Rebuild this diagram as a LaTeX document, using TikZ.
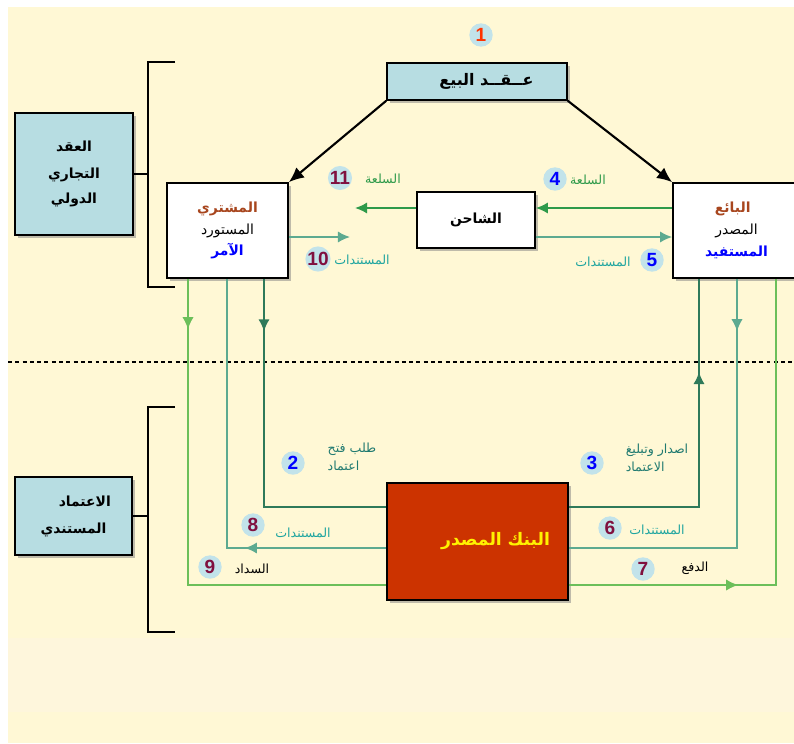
\documentclass[tikz,border=0pt]{standalone}
\usepackage{fontspec}
\setsansfont{Liberation Sans}
\newfontfamily\arabicfont[Script=Arabic]{DejaVu Sans}
\TeXXeTstate=1
\usepackage{xcolor}
\usepackage{tikz}
\usetikzlibrary{arrows.meta,decorations.markings,shadows}
\definecolor{paper}{HTML}{FFF8D5}
\definecolor{band}{HTML}{FEF6DC}
\definecolor{boxblue}{HTML}{B7DDE2}
\definecolor{numblue}{HTML}{C2E3EA}
\definecolor{bankred}{HTML}{CC3300}
\definecolor{goods}{HTML}{2E9A4A}
\definecolor{docs}{HTML}{1FA5A0}
\definecolor{credit}{HTML}{207A70}
\definecolor{reqline}{HTML}{2F7A5A}
\definecolor{docline}{HTML}{5DAA90}
\definecolor{payline}{HTML}{6CBF5A}
\definecolor{numred}{HTML}{FF3300}
\definecolor{nummaroon}{HTML}{80103F}
\definecolor{brownt}{HTML}{A8461E}
\newcommand{\artxt}[1]{\beginR #1\endR}
\tikzset{
  pane/.style={rectangle, draw=black, line width=1.2pt, fill=#1, align=center,
               font=\arabicfont\bfseries\fontsize{10.5}{12.5}\selectfont, inner sep=2pt,
               drop shadow={shadow xshift=2.5pt, shadow yshift=-2.5pt, fill=black!50, opacity=0.5}},
  num/.style={circle, fill=numblue, inner sep=0pt, minimum size=0.62cm,
              font=\sffamily\bfseries\Large, text=#1},
  lab/.style={font=\arabicfont\fontsize{9.5}{12}\selectfont, text=#1, align=left, inner sep=1pt},
  flow/.style={draw=#1, line width=1.4pt},
  midtip/.style={postaction={decorate,decoration={markings,
                 mark=at position #1 with {\arrow{Latex[length=3.2mm,width=3mm]}}}}},
  endtip/.style={-{Latex[length=3.2mm,width=3mm]}},
  bigarr/.style={-{Latex[length=4mm,width=3.5mm]}, line width=1.6pt, draw=black},
}

\begin{document}
\begin{tikzpicture}[x=0.0265cm,y=-0.0265cm]
  \clip (0,0) rectangle (794,743);
  \fill[paper] (8,7) rectangle (794,743);
  \fill[band] (8,638) rectangle (794,712);
  \draw[line width=1.5pt, dash pattern=on 3pt off 2.5pt] (8,362) -- (794,362);
  \draw[line width=1.5pt] (175,62) -- (148,62) -- (148,287) -- (175,287);
  \draw[line width=1.5pt] (175,407) -- (148,407) -- (148,632) -- (175,632);

  \node[pane=boxblue, minimum width=4.77cm, minimum height=0.98cm, font=\arabicfont\bfseries\large]
    (sale) at (477,81.5) {\hspace*{0.5cm}\artxt{عــقــد البيع}};
  \node[pane=boxblue, minimum width=3.13cm, minimum height=3.23cm]
    (trade) at (74,174) {\artxt{العقد}\\[8pt] \artxt{التجاري}\\[6pt] \artxt{الدولي}};
  \node[pane=boxblue, minimum width=3.1cm, minimum height=2.07cm]
    (lc) at (73.5,516) {\hspace*{0.6cm}\artxt{الاعتماد}\\[8pt] \artxt{المستندي}};
  \node[pane=white, minimum width=3.21cm, minimum height=2.52cm]
    (buyer) at (227.5,230.5) {\textcolor{brownt}{\artxt{المشتري}}\\[4pt]
      {\mdseries\artxt{المستورد}}\\[4pt] \textcolor{blue}{\artxt{الآمر}}};
  \node[pane=white, minimum width=3.13cm, minimum height=1.48cm]
    (shipper) at (476,220) {\artxt{الشاحن}};
  \node[pane=white, minimum width=3.37cm, minimum height=2.52cm]
    (seller) at (736.5,230.5) {\hspace*{-0.2cm}\textcolor{brownt}{\artxt{البائع}}\\[4pt]
      {\mdseries\artxt{المصدر}}\\[4pt] \textcolor{blue}{\artxt{المستفيد}}};
  \node[pane=bankred, minimum width=4.8cm, minimum height=3.1cm, text width=3.85cm, align=right,
        text=yellow, font=\arabicfont\bfseries\fontsize{13}{15}\selectfont]
    (bank) at (477.5,541.5) {\artxt{البنك المصدر}};

  \draw[line width=1.5pt] (trade.east) -- (trade.east -| 148,0);
  \draw[line width=1.5pt] (lc.east) -- (lc.east -| 148,0);

  \draw[bigarr] (sale.south west) -- (buyer.north east);
  \draw[bigarr] (sale.south east) -- (seller.north west);

  \coordinate (g) at (355,208);
  \coordinate (d) at (350,237);
  \draw[flow=goods, endtip] (shipper.west |- g) -- (g);
  \draw[flow=docline, endtip] (buyer.east |- d) -- (d);
  \draw[flow=goods, endtip] (seller.west |- g) -- (shipper.east |- g);
  \draw[flow=docline, endtip] (shipper.east |- d) -- (seller.west |- d);

  \coordinate (r9) at (188,585);
  \coordinate (r8) at (227,548);
  \coordinate (r2) at (264,507);
  \coordinate (r3) at (699,507);
  \coordinate (r6) at (737,548);
  \coordinate (r7) at (776,585);
  \draw[flow=payline, midtip=0.10] (buyer.south -| r9) -- (r9) -- (bank.west |- r9);
  \draw[flow=docline, midtip=0.33] (bank.west |- r8) -- (r8) -- (buyer.south -| r8);
  \draw[flow=reqline, midtip=0.15] (buyer.south -| r2) -- (r2) -- (bank.west |- r2);
  \draw[flow=reqline, midtip=0.74] (bank.east |- r3) -- (r3) -- (seller.south -| r3);
  \draw[flow=docline, midtip=0.12] (seller.south -| r6) -- (r6) -- (bank.east |- r6);
  \draw[flow=payline, midtip=0.33] (bank.east |- r7) -- (r7) -- (seller.south -| r7);

  \node[num=numred] (n1) at (481,35) {1};
  \node[num=blue] (n2) at (293,463) {2};
  \node[num=blue] (n3) at (592,463) {3};
  \node[num=blue] (n4) at (555,179) {4};
  \node[num=blue] (n5) at (652,260) {5};
  \node[num=nummaroon] (n6) at (610,528) {6};
  \node[num=nummaroon] (n7) at (643,569) {7};
  \node[num=nummaroon] (n8) at (253,525) {8};
  \node[num=nummaroon] (n9) at (210,567) {9};
  \node[num=nummaroon] (n10) at (318,259) {10};
  \node[num=nummaroon] (n11) at (340,178) {11};

  \node[lab=goods] (t11) at (383,179) {\artxt{السلعة}};
  \node[lab=docs] (t10) at (362,260) {\artxt{المستندات}};
  \node[lab=goods] (t4) at (588,180) {\artxt{السلعة}};
  \node[lab=docs] (t5) at (603,262) {\artxt{المستندات}};
  \node[lab=credit] (t2) at (352,457) {\artxt{طلب فتح}\\[2pt] \artxt{اعتماد}};
  \node[lab=credit] (t3) at (657,458) {\artxt{اصدار وتبليغ}\\[2pt] \artxt{الاعتماد}};
  \node[lab=docs] (t8) at (303,533) {\artxt{المستندات}};
  \node[lab=black] (t9) at (252,569) {\artxt{السداد}};
  \node[lab=docs] (t6) at (657,530) {\artxt{المستندات}};
  \node[lab=black] (t7) at (695,568) {\artxt{الدفع}};
\end{tikzpicture}
\end{document}
